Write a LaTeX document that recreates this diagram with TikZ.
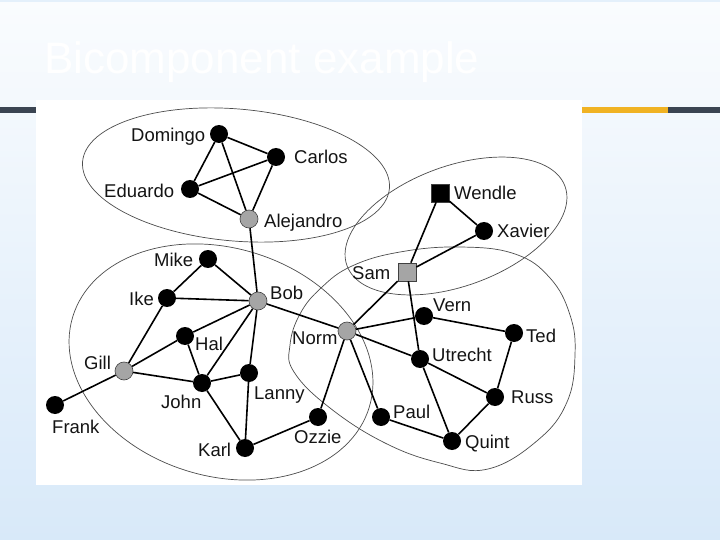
\documentclass[tikz,border=0pt]{standalone}
\usepackage{fontspec}
\setmainfont{Liberation Sans}
\usetikzlibrary{positioning,calc}
\definecolor{bgtop}{RGB}{250,252,254}
\definecolor{bgbot}{RGB}{216,233,249}
\definecolor{bardark}{RGB}{59,68,82}
\definecolor{barorange}{RGB}{240,178,35}
\definecolor{cutgray}{RGB}{165,165,165}

\begin{document}
\begin{tikzpicture}[
    x=1pt, y=-1pt,
    vtx/.style={circle, fill=black, minimum size=18pt, inner sep=0pt},
    cutv/.style={circle, fill=cutgray, draw=black!75, line width=0.6pt, minimum size=18pt, inner sep=0pt},
    sqv/.style={rectangle, draw=black!75, line width=0.6pt, minimum size=18pt, inner sep=0pt},
    lbl/.style={font=\fontsize{18.5}{20}\selectfont, text=black!92, inner sep=0pt, anchor=base west},
    edge/.style={line width=1.6pt, black},
    hull/.style={line width=0.7pt, black!70}
]
    \useasboundingbox (0,0) rectangle (720,540);
    % --- Slide ---
    \shade[top color=bgtop, bottom color=bgbot] (0,0) rectangle (720,540);
    \fill[bgbot!70] (0,0) rectangle (720,2);
    \node[anchor=base west, inner sep=0pt, text=white, font=\fontsize{44}{50}\selectfont] (title) at (44,74) {Bicomponent example};
    \fill[bardark] (0,107) rectangle (720,113);
    \fill[barorange] (582,107) rectangle (668,113);
    \fill[white] (36,100) rectangle (582,485);

    % --- Bicomponent outlines ---
    \draw[hull, rotate around={-5:(236,175)}] (236,175) ellipse [x radius=154, y radius=66];
    \draw[hull, rotate around={-17:(221,362)}] (221,362) ellipse [x radius=155, y radius=114];
    \draw[hull, rotate around={20:(456,226)}] (456,226) ellipse [x radius=116, y radius=60];
    \draw[hull] plot[smooth cycle, tension=0.7] coordinates {(290,345) (300,314) (321,288) (352,266) (400,252) (460,247) (515,254) (550,278) (570,315) (575,355) (567,402) (538,440) (488,469) (440,463) (385,443) (330,408) (294,372)};

    % --- Actors ---
    \node[vtx] (Domingo) at (219,134) {};
    \node[vtx] (Carlos) at (276,157) {};
    \node[vtx] (Eduardo) at (190,189) {};
    \node[cutv] (Alejandro) at (249,219) {};
    \node[vtx] (Mike) at (208,259) {};
    \node[vtx] (Ike) at (167,298) {};
    \node[cutv] (Bob) at (258,301) {};
    \node[vtx] (Hal) at (185,336) {};
    \node[cutv] (Gill) at (124,371) {};
    \node[vtx] (John) at (202,383) {};
    \node[vtx] (Lanny) at (249,373) {};
    \node[vtx] (Frank) at (55,405) {};
    \node[vtx] (Karl) at (245,448) {};
    \node[vtx] (Ozzie) at (318,417) {};
    \node[cutv] (Norm) at (347,331) {};
    \node[sqv, fill=cutgray] (Sam) at (407,272) {};
    \node[sqv, fill=black] (Wendle) at (440,193) {};
    \node[vtx] (Xavier) at (484,231) {};
    \node[vtx] (Vern) at (424,316) {};
    \node[vtx] (Ted) at (514,333) {};
    \node[vtx] (Utrecht) at (420,359) {};
    \node[vtx] (Russ) at (495,397) {};
    \node[vtx] (Paul) at (381,417) {};
    \node[vtx] (Quint) at (452,441) {};

    % --- Names ---
    \node[lbl] (tDomingo) at (131,142) {Domingo};
    \node[lbl] (tCarlos) at (294,164) {Carlos};
    \node[lbl] (tEduardo) at (104,197) {Eduardo};
    \node[lbl] (tAlejandro) at (264,228) {Alejandro};
    \node[lbl] (tMike) at (154,266) {Mike};
    \node[lbl] (tIke) at (129,305) {Ike};
    \node[lbl] (tBob) at (270,299) {Bob};
    \node[lbl] (tHal) at (195,350) {Hal};
    \node[lbl] (tGill) at (84,369) {Gill};
    \node[lbl] (tJohn) at (161,408) {John};
    \node[lbl] (tLanny) at (254,399) {Lanny};
    \node[lbl] (tFrank) at (52,433) {Frank};
    \node[lbl] (tKarl) at (198,456) {Karl};
    \node[lbl] (tOzzie) at (294,443) {Ozzie};
    \node[lbl] (tNorm) at (292,344) {Norm};
    \node[lbl] (tSam) at (352,279) {Sam};
    \node[lbl] (tWendle) at (454,200) {Wendle};
    \node[lbl] (tXavier) at (497,237) {Xavier};
    \node[lbl] (tVern) at (433,311) {Vern};
    \node[lbl] (tTed) at (526,342) {Ted};
    \node[lbl] (tUtrecht) at (432,361) {Utrecht};
    \node[lbl] (tRuss) at (511,403) {Russ};
    \node[lbl] (tPaul) at (393,418) {Paul};
    \node[lbl] (tQuint) at (465,448) {Quint};

    % --- Ties ---
    \draw[edge] (Domingo) -- (Carlos) (Domingo) -- (Eduardo) (Domingo) -- (Alejandro)
        (Carlos) -- (Eduardo) (Carlos) -- (Alejandro) (Eduardo) -- (Alejandro)
        (Alejandro) -- (Bob);
    \draw[edge] (Mike) -- (Ike) (Mike) -- (Bob) (Ike) -- (Bob) (Ike) -- (Gill)
        (Bob) -- (Hal) (Bob) -- (John) (Bob) -- (Lanny) (Bob) -- (Norm)
        (Hal) -- (Gill) (Hal) -- (John) (Gill) -- (John) (Gill) -- (Frank)
        (John) -- (Lanny) (John) -- (Karl) (Lanny) -- (Karl) (Karl) -- (Ozzie)
        (Ozzie) -- (Norm);
    \draw[edge] (Norm) -- (Sam) (Norm) -- (Vern) (Norm) -- (Utrecht) (Norm) -- (Paul)
        (Sam) -- (Wendle) (Sam) -- (Xavier) (Wendle) -- (Xavier) (Sam) -- (Utrecht)
        (Vern) -- (Ted) (Ted) -- (Russ) (Utrecht) -- (Russ) (Utrecht) -- (Quint)
        (Russ) -- (Quint) (Paul) -- (Quint);
\end{tikzpicture}
\end{document}
